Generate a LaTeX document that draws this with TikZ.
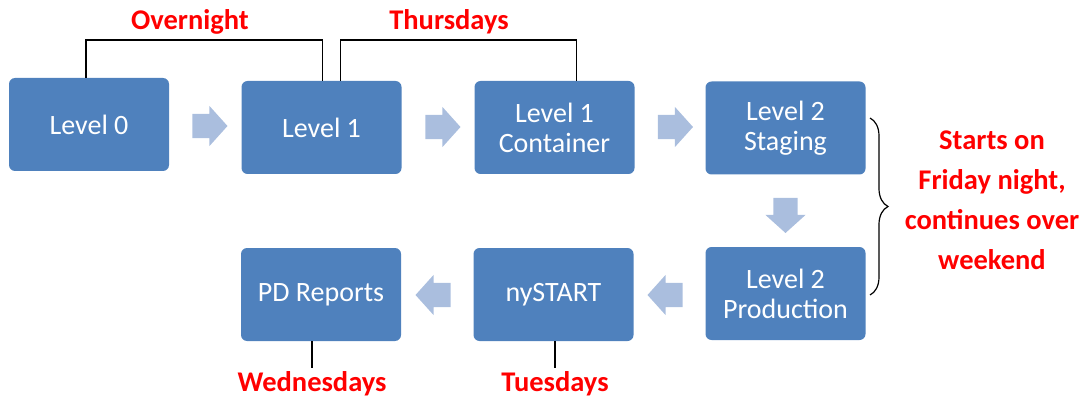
\documentclass[tikz,border=0pt]{standalone}
\usepackage{fontspec}
\setmainfont{Carlito}
\usetikzlibrary{shapes.arrows,decorations.pathreplacing}
\definecolor{boxblue}{RGB}{79,129,189}
\definecolor{flowblue}{RGB}{170,190,222}

\tikzset{
  stage/.style={fill=boxblue, rounded corners=6pt, minimum width=160pt, minimum height=93pt,
    inner sep=0pt, text=white, align=center, font=\fontsize{28}{30}\selectfont},
  flow/.style={single arrow, fill=flowblue, minimum height=35pt, inner xsep=0pt,
    inner ysep=12pt, single arrow head extend=8pt, single arrow tip angle=96},
  flowdown/.style={flow, shape border rotate=270, inner xsep=12pt, inner ysep=0pt},
  when/.style={text=red, align=center, font=\fontsize{28.5}{40}\selectfont\bfseries},
  tie/.style={line width=1.5pt}
}

\begin{document}
\begin{tikzpicture}[x=1pt,y=-1pt]
    \useasboundingbox (0,0) rectangle (1085,401);

    \node[stage] (lvl0) at (89,124.5) {Level 0};
    \node[stage] (lvl1) at (321.5,127.5) {Level 1};
    \node[stage] (cont) at (554.5,127.5) {Level 1\\Container};
    \node[stage] (stag) at (785.5,128) {Level 2\\Staging};
    \node[stage] (prod) at (785.5,293.5) {Level 2\\Production};
    \node[stage] (nys) at (553.5,294.5) {nySTART};
    \node[stage] (pdr) at (321,294.5) {PD Reports};

    \node[flow] (f1) at (204.5,126) {};
    \node[flow] (f2) at (437.5,127) {};
    \node[flow] (f3) at (670,127) {};
    \node[flowdown] (f4) at (785.5,210) {};
    \node[flow, shape border rotate=180] (f5) at (670.5,295) {};
    \node[flow, shape border rotate=180] (f6) at (438.5,295) {};

    \node[when] (night) at (190,22) {Overnight};
    \node[when] (thu) at (449,22) {Thursdays};
    \node[when] (wed) at (312,384) {Wednesdays};
    \node[when] (tue) at (555,384) {Tuesdays};
    \node[when] (wknd) at (992,200) {Starts on\\Friday night,\\continues over\\weekend};

    \draw[tie] ([xshift=-3pt]lvl0.north) -- ++(0,-38) -| ([xshift=1pt]lvl1.north);
    \draw[tie] ([xshift=19pt]lvl1.north) -- ++(0,-41) -| ([xshift=22pt]cont.north);
    \draw[tie] (wed.north |- pdr.south) -- (wed.north);
    \draw[tie] (tue.north |- nys.south) -- (tue.north);

    \coordinate (bt) at (870,118);
    \coordinate (bb) at (870,295);
    \draw[line width=1.2pt, decorate, decoration={brace, amplitude=18pt}] (bt) -- (bb);

      % \draw[help lines] (0,0) grid[step=50] (1085,401);
\end{tikzpicture}
\end{document}
